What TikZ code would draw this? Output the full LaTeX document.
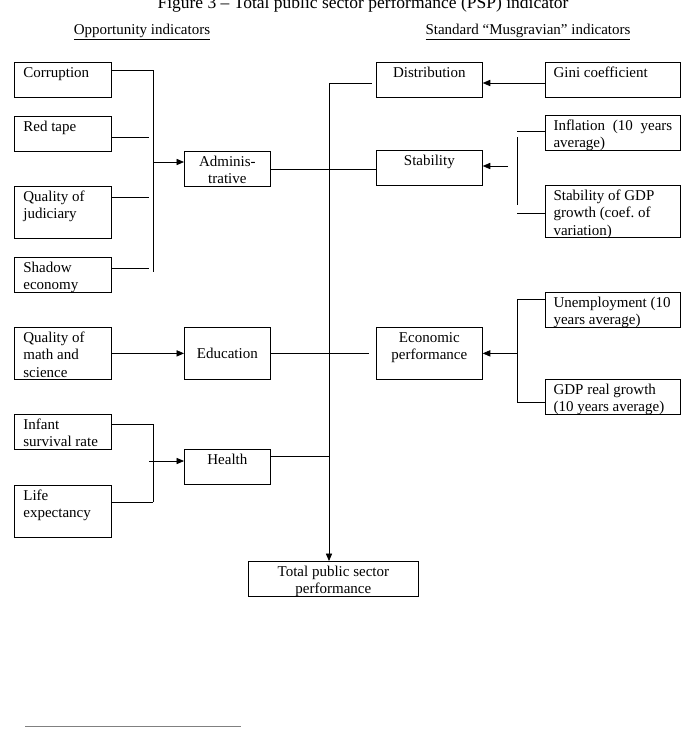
\documentclass[tikz,border=0pt]{standalone}
\usepackage{fontspec}
\setmainfont{Liberation Serif}
\usetikzlibrary{arrows.meta}

\begin{document}
\begin{tikzpicture}
[x=0.8pt,y=-0.8pt,line width=0.6pt,font=\fontsize{12}{13.8}\selectfont,
box/.style={draw,anchor=north west,inner xsep=7.2pt,inner ysep=3.6pt,text height=8.5pt},
lo/.style={text depth=12.3pt},
hi/.style={text depth=25.9pt},
colL/.style={box,text width=63.2pt,align=flush left},
colM/.style={box,text width=54.4pt,align=flush center},
colC/.style={box,text width=70.4pt,align=flush center},
colR/.style={box,inner xsep=6.5pt,text width=95pt,align=flush left},
arr/.style={-{Triangle[length=6pt,width=5pt]}}]
\useasboundingbox (0,0) rectangle (688,734);
\clip (0,0) rectangle (688,734);

\node[font=\fontsize{14}{16}\selectfont,anchor=base] (v20) at (363,8) {Figure 3 – Total public sector performance (PSP) indicator};
\node[anchor=base] (v21) at (142,34) {\underline{Opportunity indicators}};
\node[anchor=base] (v22) at (528,34) {\underline{Standard “Musgravian” indicators}};

\node[colL,lo] (v1) at (14,62) {Corruption};
\node[colL,lo] (v2) at (14,116) {Red tape};
\node[colL,hi] (v3) at (14,186) {Quality of\\judiciary};
\node[colL,lo] (v4) at (14,257) {Shadow\\economy};
\node[colL,hi] (v5) at (14,327) {Quality of\\math and\\science};
\node[colL,lo] (v6) at (14,414) {Infant\\survival rate};
\node[colL,hi] (v7) at (14,485) {Life\\expectancy};

\node[colM,lo] (v8) at (184,151) {Adminis-\\trative};
\node[colM,minimum height=41.6pt,text depth=0pt] (v9) at (184,327) {Education};
\node[colM,lo] (v10) at (184,449) {Health};

\node[colC,lo] (v11) at (376,62) {Distribution};
\node[colC,lo] (v12) at (376,150) {Stability};
\node[colC,hi] (v13) at (376,327) {Economic\\performance};

\node[colR,lo] (v14) at (545,62) {Gini coefficient};
\node[colR,lo] (v15) at (545,115) {Inflation\hfill(10\hfill years\\average)};
\node[colR,hi] (v16) at (545,185) {Stability of GDP\\growth (coef.\ of\\variation)};
\node[colR,lo] (v17) at (545,292) {Unemployment (10\\years average)};
\node[colR,lo] (v18) at (545,379) {GDP real growth\\(10 years average)};

\node[box,text width=121.6pt,align=flush center,lo] (v19) at (248,561) {Total public sector\\performance};

% junctions of the brackets
\coordinate (a1) at (153,70);
\coordinate (a2) at (149,137);
\coordinate (a3) at (149,197);
\coordinate (a4) at (149,268);
\coordinate (a5) at (153,272);
\coordinate (a6) at (153,162);
\coordinate (b1) at (153,424);
\coordinate (b2) at (153,502);
\coordinate (b3) at (149,461);
\coordinate (t1) at (329,83);
\coordinate (h1) at (329,456);
\coordinate (r1) at (517,131);
\coordinate (r2) at (517,213);
\coordinate (r3) at (508,166);
\coordinate (r4) at (517,299);
\coordinate (r5) at (517,402);

\foreach \from/\to in {v1.east |- a1/a1,v2.east |- a2/a2,v3.east |- a3/a3,v4.east |- a4/a4,a1/a5,v8.east/v12.west |- v8.east,v10.east |- h1/h1,v6.east |- b1/b1,b1/b2,b2/v7.east |- b2,r1/v15.west |- r1,r2/v16.west |- r2,r4/v17.west |- r4,r5/v18.west |- r5,r4/r5}
\draw (\from) -- (\to);
\draw[shorten <=4.8pt,shorten >=6.4pt] (r1) -- (r2);
\draw[shorten >=3pt] (t1) -- (v11.west |- t1);
\draw[shorten >=6pt] (v9.east) -- (v13.west);

\foreach \from/\to in {a6/v8.west |- a6,v5.east/v9.west,b3/v10.west |- b3,t1/t1 |- v19.north,v14.west |- t1/v11.east |- t1,r3/v12.east |- r3,r4 |- v13.east/v13.east}
\draw[arr] (\from) -- (\to);

\draw[gray] (25,726) -- (241,726);
\end{tikzpicture}
\end{document}
